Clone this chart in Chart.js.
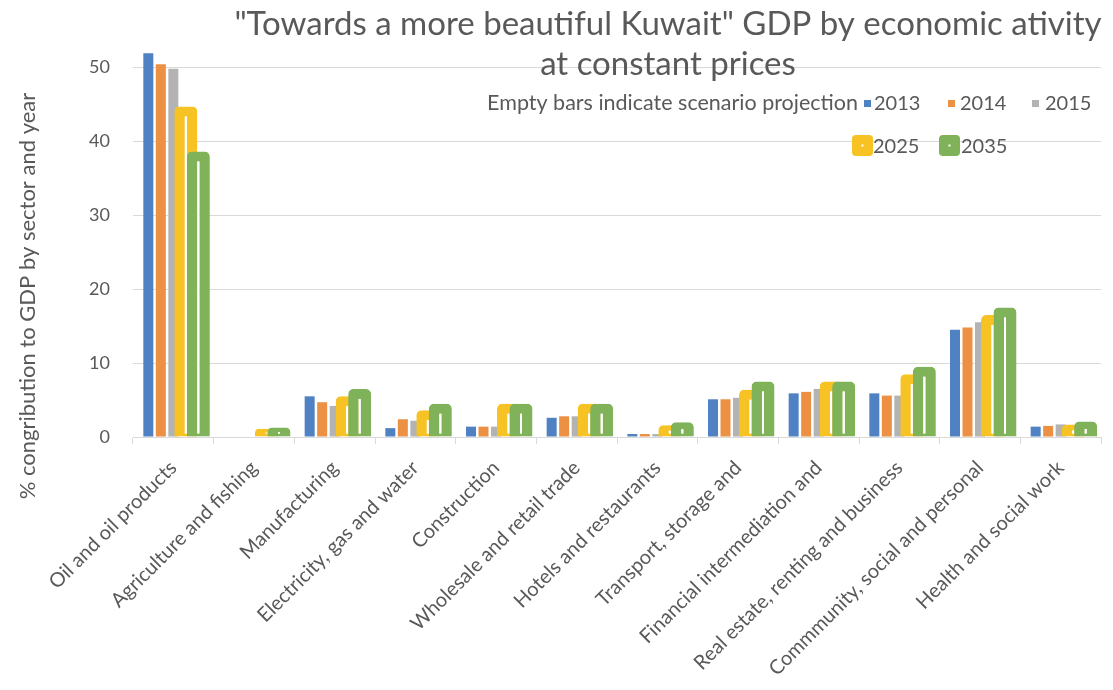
<!DOCTYPE html>
<html>
<head>
<meta charset="utf-8">
<script src="https://cdn.jsdelivr.net/npm/chart.js@4.4.0/dist/chart.umd.min.js"></script>
<style>
  html, body { margin: 0; padding: 0; background: #fff; }
  #wrap { width: 1113px; height: 690px; }
</style>
</head>
<body>
<div id="wrap"><canvas id="gdpChart"></canvas></div>
<script>
var sectors = [
  'Oil and oil products', 'Agriculture and fishing', 'Manufacturing',
  'Electricity, gas and water', 'Construction', 'Wholesale and retail trade',
  'Hotels and restaurants', 'Transport, storage and', 'Financial intermediation and',
  'Real estate, renting and business', 'Commmunity, social and personal', 'Health and social work'
];
var years = ['2013', '2014', '2015', '2025', '2035'];

var share2013 = [51.9, 0, 5.5, 1.2, 1.4, 2.6, 0.4, 5.1, 5.9, 5.9, 14.5, 1.4];
var share2014 = [50.4, 0, 4.7, 2.4, 1.4, 2.8, 0.4, 5.1, 6.1, 5.6, 14.8, 1.5];
var share2015 = [49.8, 0, 4.2, 2.2, 1.4, 2.8, 0.4, 5.3, 6.5, 5.6, 15.5, 1.7];
var share2025 = [44.7, 1.1, 5.5, 3.6, 4.5, 4.5, 1.6, 6.4, 7.5, 8.5, 16.5, 1.7];
var share2035 = [38.6, 1.3, 6.5, 4.5, 4.5, 4.5, 2.0, 7.5, 7.5, 9.5, 17.5, 2.1];

var yTicks = [0, 10, 20, 30, 40, 50];

var titleLines = ['"Towards a more beautiful Kuwait" GDP by economic ativity', 'at constant prices'];
var yTitle = '% congribution to GDP by sector and year';
var legendNote = 'Empty bars indicate scenario projection';

var grey = '#595959';
var fontFamily = 'Lato, "Open Sans", sans-serif';

// actual years: plain filled bars
function solidBars(label, data, color) {
  return {
    label: label,
    data: data,
    backgroundColor: color,
    borderWidth: 0,
    barPercentage: 0.8
  };
}

// scenario years: wide "empty" bars, thick coloured outline with a white slit
function emptyBars(label, data, color) {
  return {
    label: label,
    data: data,
    backgroundColor: '#ffffff',
    borderColor: color,
    borderWidth: { top: 10, left: 10.5, right: 10.5, bottom: 3 },
    borderSkipped: false,
    borderRadius: { topLeft: 5, topRight: 5, bottomLeft: 0, bottomRight: 0 },
    barPercentage: 1.84
  };
}

// later series are painted over earlier ones (2035 sits on top of 2025)
var drawInOrder = {
  id: 'drawInOrder',
  beforeDatasetsDraw: function (chart) {
    chart.ctx.save();
    chart.getSortedVisibleDatasetMetas().forEach(function (meta) {
      meta.controller.draw();
    });
    chart.ctx.restore();
    return false;
  }
};

// title, vertical axis caption and the two-row legend
var chartText = {
  id: 'chartText',
  afterDraw: function (chart) {
    var ctx = chart.ctx;
    var sets = chart.data.datasets;
    ctx.save();
    ctx.fillStyle = grey;

    ctx.font = '33px ' + fontFamily;
    ctx.textAlign = 'center';
    ctx.textBaseline = 'alphabetic';
    ctx.fillText(titleLines[0], 668, 35);
    ctx.fillText(titleLines[1], 668, 75);

    ctx.save();
    ctx.translate(35, 296);
    ctx.rotate(-Math.PI / 2);
    ctx.font = '22px ' + fontFamily;
    ctx.fillText(yTitle, 0, 0);
    ctx.restore();

    ctx.textBaseline = 'middle';
    ctx.font = '21.5px ' + fontFamily;
    ctx.textAlign = 'right';
    ctx.fillText(legendNote, 858, 103);

    ctx.font = '20px ' + fontFamily;
    ctx.textAlign = 'left';
    var boxX = [864, 948, 1032];
    var textX = [874, 960, 1045];
    for (var i = 0; i < 3; i++) {
      ctx.fillStyle = sets[i].backgroundColor;
      ctx.fillRect(boxX[i], 100, 7, 7);
      ctx.fillStyle = grey;
      ctx.fillText(sets[i].label, textX[i], 104);
    }
    var projBoxX = [852, 939];
    var projTextX = [873, 961];
    for (var j = 0; j < 2; j++) {
      var set = sets[j + 3];
      ctx.fillStyle = set.borderColor;
      ctx.beginPath();
      ctx.roundRect(projBoxX[j], 135, 21, 21, 4);
      ctx.fill();
      ctx.fillStyle = '#ffffff';
      ctx.fillRect(projBoxX[j] + 9.5, 144.5, 2, 2);
      ctx.fillStyle = grey;
      ctx.fillText(set.label, projTextX[j], 147);
    }
    ctx.restore();
  }
};

var ctx = document.getElementById('gdpChart').getContext('2d');
var gdpChart = new Chart(ctx, {
  type: 'bar',
  data: {
    labels: sectors,
    datasets: [
      solidBars(years[0], share2013, '#5081c3'),
      solidBars(years[1], share2014, '#ec9043'),
      solidBars(years[2], share2015, '#b3b3b3'),
      emptyBars(years[3], share2025, '#f7c324'),
      emptyBars(years[4], share2035, '#80b25a')
    ]
  },
  options: {
    responsive: true,
    maintainAspectRatio: false,
    animation: false,
    layout: { padding: { top: 45, right: 12, left: 0, bottom: 0 } },
    datasets: { bar: { categoryPercentage: 0.775 } },
    plugins: {
      legend: { display: false },
      title: { display: false },
      tooltip: { enabled: false }
    },
    scales: {
      x: {
        grid: { drawOnChartArea: false, color: '#d9d9d9', tickLength: 7, offset: true },
        border: { color: '#d9d9d9' },
        ticks: {
          color: grey,
          font: { family: fontFamily, size: 20 },
          minRotation: 45,
          maxRotation: 45,
          autoSkip: false,
          padding: 12
        },
        afterFit: function (scale) { scale.height = 253; }
      },
      y: {
        min: 0,
        max: 53,
        grid: { color: '#d9d9d9', drawTicks: false },
        border: { display: false },
        ticks: {
          color: grey,
          font: { family: fontFamily, size: 18 },
          padding: 23
        },
        afterBuildTicks: function (scale) {
          scale.ticks = yTicks.map(function (v) { return { value: v }; });
        },
        afterFit: function (scale) { scale.width = 133; }
      }
    }
  },
  plugins: [drawInOrder, chartText]
});
</script>
</body>
</html>
